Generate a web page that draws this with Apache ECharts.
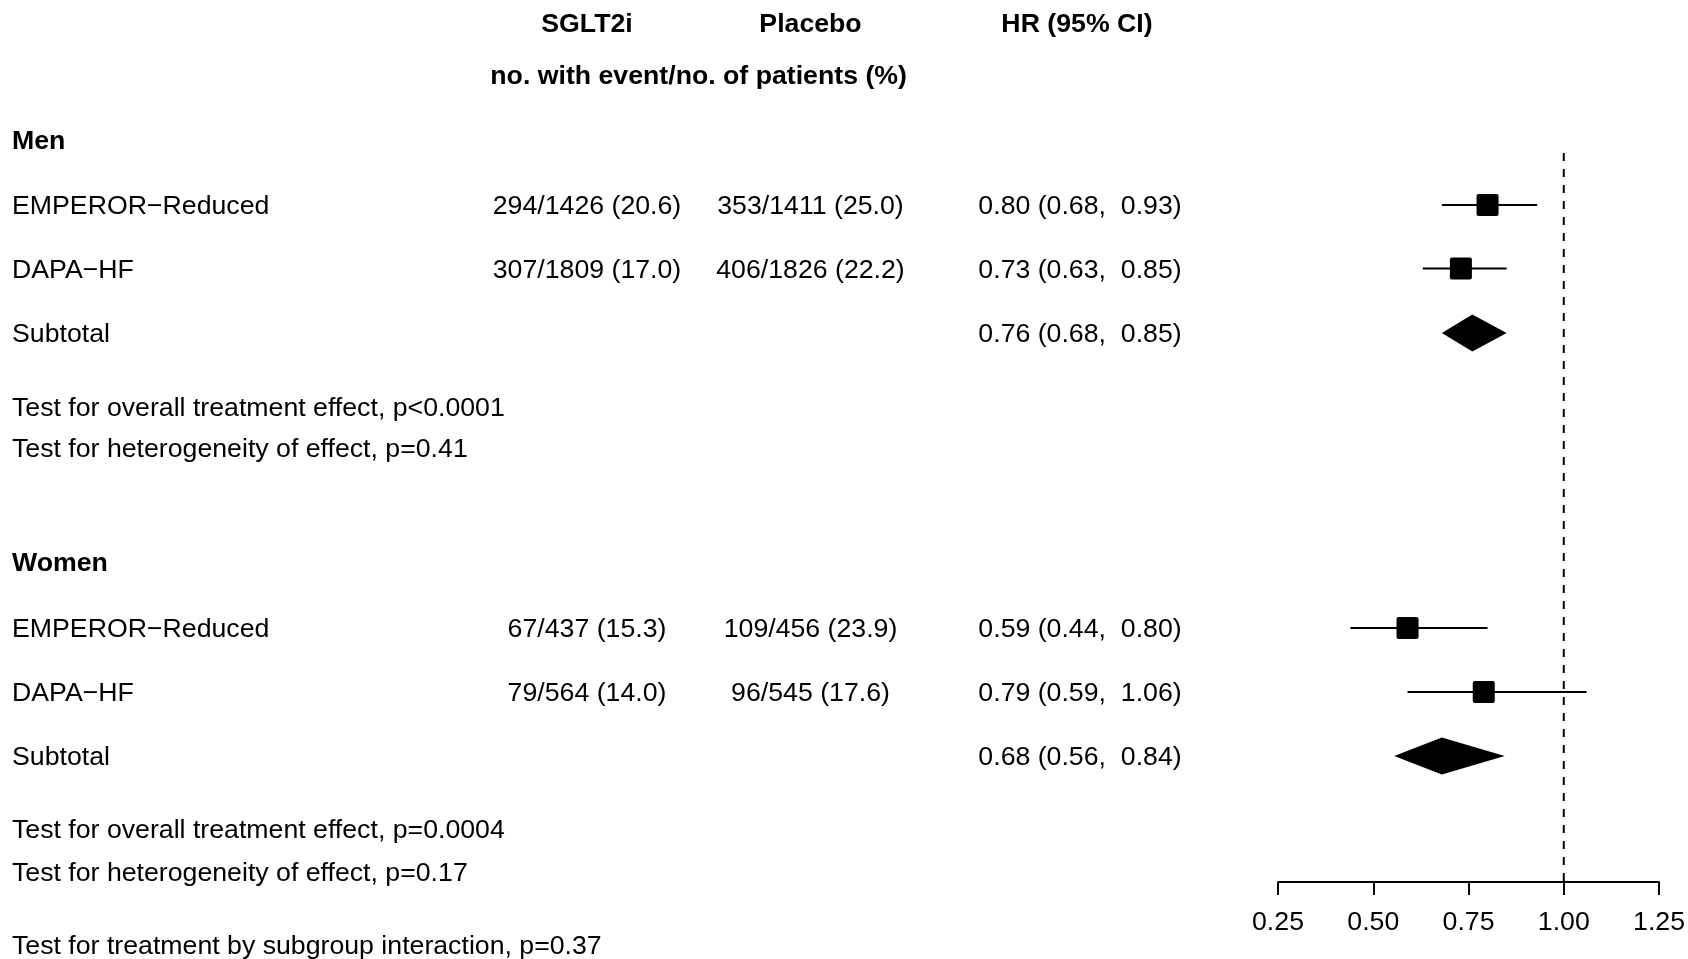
<!DOCTYPE html>
<html>
<head>
<meta charset="utf-8">
<script src="https://cdn.jsdelivr.net/npm/echarts@6/dist/echarts.min.js"></script>
<style>
html,body{margin:0;padding:0;background:#fff;}
#chart{width:1688px;height:959px;}
</style>
</head>
<body>
<div id="chart"></div>
<script>
// ---------------- DATA ----------------
const groups = ['Men', 'Women'];
const studyLabels = ['EMPEROR\u2212Reduced', 'DAPA\u2212HF', 'Subtotal'];
const headerTreat = 'SGLT2i';
const headerPlacebo = 'Placebo';
const headerHR = 'HR (95% CI)';
const headerSub = 'no. with event/no. of patients (%)';

const menSGLT2iEvents = [294, 307];
const menSGLT2iN = [1426, 1809];
const menSGLT2iPct = [20.6, 17.0];
const menPlaceboEvents = [353, 406];
const menPlaceboN = [1411, 1826];
const menPlaceboPct = [25.0, 22.2];
const menHR = [0.80, 0.73, 0.76];
const menLo = [0.68, 0.63, 0.68];
const menHi = [0.93, 0.85, 0.85];
const menTests = ['Test for overall treatment effect, p<0.0001', 'Test for heterogeneity of effect, p=0.41'];

const womenSGLT2iEvents = [67, 79];
const womenSGLT2iN = [437, 564];
const womenSGLT2iPct = [15.3, 14.0];
const womenPlaceboEvents = [109, 96];
const womenPlaceboN = [456, 545];
const womenPlaceboPct = [23.9, 17.6];
const womenHR = [0.59, 0.79, 0.68];
const womenLo = [0.44, 0.59, 0.555];
const womenHi = [0.80, 1.06, 0.845];
const womenTests = ['Test for overall treatment effect, p=0.0004', 'Test for heterogeneity of effect, p=0.17'];

const interactionTest = 'Test for treatment by subgroup interaction, p=0.37';
const xTicks = [0.25, 0.50, 0.75, 1.00, 1.25];
const refValue = 1.0;

// ---------------- LAYOUT ----------------
const W = 1688, H = 959;
const axisY = 882;               // vertical pixel of the HR axis
const refTop = 153;
const colLabel = 12, colTreat = 587, colPlacebo = 810.5, colHR = 1080, colHRHead = 1077, colSub = 698.6;
const yHead1 = 24.5, yHead2 = 77;
const groupLayout = [
  {head: 142, rows: [207, 270.5, 335], tests: [408.5, 450]},
  {head: 564, rows: [630, 694, 758], tests: [830.5, 873.5]}
];
const yInteraction = 947;
const FONT = "'Liberation Sans', Arial, Helvetica, sans-serif";
const FS = 26.7;
const SQ = 22, DIAM_H = 37;

// ---------------- BUILD ----------------
const grp = [
  {sE: menSGLT2iEvents, sN: menSGLT2iN, sP: menSGLT2iPct, pE: menPlaceboEvents, pN: menPlaceboN, pP: menPlaceboPct, hr: menHR, lo: menLo, hi: menHi, tests: menTests},
  {sE: womenSGLT2iEvents, sN: womenSGLT2iN, sP: womenSGLT2iPct, pE: womenPlaceboEvents, pN: womenPlaceboN, pP: womenPlaceboPct, hr: womenHR, lo: womenLo, hi: womenHi, tests: womenTests}
];

const texts = [];   // [x, y, text, align, bold]
texts.push([colTreat, yHead1, headerTreat, 'center', 1]);
texts.push([colPlacebo, yHead1, headerPlacebo, 'center', 1]);
texts.push([colHRHead, yHead1, headerHR, 'center', 1]);
texts.push([colSub, yHead2, headerSub, 'center', 1]);

const forest = [];  // [hr, lo, hi, y, kind]
groups.forEach((g, gi) => {
  const L = groupLayout[gi], d = grp[gi];
  texts.push([colLabel, L.head, g, 'left', 1]);
  studyLabels.forEach((s, i) => {
    const y = L.rows[i];
    texts.push([colLabel, y, s, 'left', 0]);
    if (i < 2) {
      texts.push([colTreat, y, d.sE[i] + '/' + d.sN[i] + ' (' + d.sP[i].toFixed(1) + ')', 'center', 0]);
      texts.push([colPlacebo, y, d.pE[i] + '/' + d.pN[i] + ' (' + d.pP[i].toFixed(1) + ')', 'center', 0]);
    }
    texts.push([colHR, y, d.hr[i].toFixed(2) + ' (' + d.lo[i].toFixed(2) + ',  ' + d.hi[i].toFixed(2) + ')', 'center', 0]);
    forest.push([d.hr[i], d.lo[i], d.hi[i], y - 2, i < 2 ? 0 : 1]);
  });
  d.tests.forEach((t, i) => texts.push([colLabel, L.tests[i], t, 'left', 0]));
});
texts.push([colLabel, yInteraction, interactionTest, 'left', 0]);

const chart = echarts.init(document.getElementById('chart'));
chart.setOption({
  backgroundColor: '#fff',
  animation: false,
  grid: [
    {left: 1278, right: W - 1659.3, top: 0, bottom: H - axisY},
    {left: 0, right: 0, top: 0, bottom: H - axisY}
  ],
  xAxis: [
    {
      gridIndex: 0, type: 'value', min: xTicks[0], max: xTicks[xTicks.length - 1], interval: 0.25,
      axisLine: {show: true, onZero: false, lineStyle: {color: '#000', width: 2}},
      axisTick: {show: true, length: 13, lineStyle: {color: '#000', width: 2}},
      axisLabel: {show: true, margin: 27, color: '#000', fontSize: FS, fontFamily: FONT, formatter: v => v.toFixed(2)},
      splitLine: {show: false}
    },
    {gridIndex: 1, type: 'value', min: 0, max: W, show: false}
  ],
  yAxis: [
    {gridIndex: 0, type: 'value', min: 0, max: axisY, inverse: true, show: false},
    {gridIndex: 1, type: 'value', min: 0, max: axisY, inverse: true, show: false}
  ],
  series: [
    {
      type: 'line', xAxisIndex: 0, yAxisIndex: 0, symbol: 'none', silent: true,
      data: [[refValue, refTop], [refValue, axisY]],
      lineStyle: {color: '#000', width: 2, type: [8, 8]}
    },
    {
      type: 'custom', xAxisIndex: 0, yAxisIndex: 0, clip: false, silent: true,
      data: forest,
      encode: {x: [0, 1, 2], y: 3},
      renderItem: function (params, api) {
        const hr = api.value(0), lo = api.value(1), hi = api.value(2), y = api.value(3), kind = api.value(4);
        const c = api.coord([hr, y]), l = api.coord([lo, y]), h = api.coord([hi, y]);
        if (kind === 1) {
          return {
            type: 'polygon',
            shape: {points: [[l[0], c[1]], [c[0], c[1] - DIAM_H / 2], [h[0], c[1]], [c[0], c[1] + DIAM_H / 2]]},
            style: {fill: '#000'}
          };
        }
        return {
          type: 'group',
          children: [
            {type: 'line', shape: {x1: l[0], y1: c[1], x2: h[0], y2: c[1]}, style: {stroke: '#000', lineWidth: 2}},
            {type: 'rect', shape: {x: c[0] - SQ / 2, y: c[1] - SQ / 2, width: SQ, height: SQ, r: 2}, style: {fill: '#000'}}
          ]
        };
      }
    },
    {
      type: 'custom', xAxisIndex: 1, yAxisIndex: 1, clip: false, silent: true,
      data: texts,
      encode: {x: 0, y: 1},
      renderItem: function (params, api) {
        const item = texts[params.dataIndex];
        const p = api.coord([item[0], item[1]]);
        return {
          type: 'text', x: p[0], y: p[1],
          style: {
            text: item[2], fill: '#000', fontSize: FS, fontFamily: FONT,
            fontWeight: item[4] ? 'bold' : 'normal',
            align: item[3], verticalAlign: 'middle'
          }
        };
      }
    }
  ]
});
</script>
</body>
</html>
